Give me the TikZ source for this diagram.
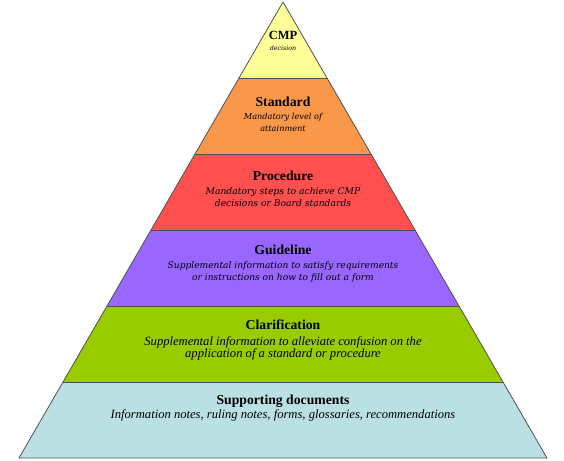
\documentclass[tikz,border=0pt]{standalone}
\usepackage{fontspec}
\setmainfont{Liberation Serif}
\newfontfamily\wideit{DejaVu Serif}
\definecolor{cyel}{HTML}{FFFF99}
\definecolor{corg}{HTML}{F9984B}
\definecolor{cred}{HTML}{FF5050}
\definecolor{cpur}{HTML}{9966FF}
\definecolor{cgrn}{HTML}{99CC00}
\definecolor{cblu}{HTML}{BBE0E3}
\definecolor{cline}{HTML}{505050}
\tikzset{
  layer/.style={draw=cline, line width=0.8pt, line join=round},
  ttl/.style={font=\fontsize{13.7}{15}\selectfont\bfseries, inner sep=0pt, anchor=center},
  subw/.style={font=\wideit\itshape, inner sep=0pt, align=center, anchor=center},
  subt/.style={font=\fontsize{12.6}{12.5}\selectfont\itshape, inner sep=0pt, align=center, anchor=center}
}
\begin{document}
\begin{tikzpicture}[x=1pt,y=-1pt]
\useasboundingbox (0,0) rectangle (564,460);
% layers
\fill[cblu] (63,382) -- (503,382) -- (547,458) -- (19,458) -- cycle;
\fill[cgrn] (107,306) -- (459,306) -- (503,382) -- (63,382) -- cycle;
\fill[cpur] (151,230) -- (415,230) -- (459,306) -- (107,306) -- cycle;
\fill[cred] (195,154) -- (371,154) -- (415,230) -- (151,230) -- cycle;
\fill[corg] (239,78) -- (327,78) -- (371,154) -- (195,154) -- cycle;
\fill[cyel] (283,2) -- (327,78) -- (239,78) -- cycle;
\draw[layer] (283,2) -- (547,458) -- (19,458) -- cycle;
\draw[layer] (239,78) -- (327,78);
\draw[layer] (195,154) -- (371,154);
\draw[layer] (151,230) -- (415,230);
\draw[layer] (107,306) -- (459,306);
\draw[layer] (63,382) -- (503,382);
% texts
\node[ttl, font=\fontsize{12.5}{14}\selectfont\bfseries] (t1) at (283,35) {CMP};
\node[subw, font=\wideit\itshape\fontsize{6.3}{7}\selectfont] (s1) at (283,48) {decision};
\node[ttl] (t2) at (283,102) {Standard};
\node[subw, font=\wideit\itshape\fontsize{8.2}{12}\selectfont] (s2) at (283,122) {Mandatory level of\\attainment};
\node[ttl] (t3) at (283,176) {Procedure};
\node[subw, font=\wideit\itshape\fontsize{9.2}{12}\selectfont] (s3) at (283,197) {Mandatory steps to achieve CMP\\decisions or Board standards};
\node[ttl] (t4) at (283,250) {Guideline};
\node[subw, font=\wideit\itshape\fontsize{9.1}{12}\selectfont] (s4) at (283,272) {Supplemental information to satisfy requirements\\or instructions on how to fill out a form};
\node[ttl] (t5) at (283,325) {Clarification};
\node[subt] (s5) at (283,348.5) {Supplemental information to alleviate confusion on the\\application of a standard or procedure};
\node[ttl] (t6) at (283,401) {Supporting documents};
\node[subt] (s6) at (283,415.5) {Information notes, ruling notes, forms, glossaries, recommendations};
\end{tikzpicture}
\end{document}
